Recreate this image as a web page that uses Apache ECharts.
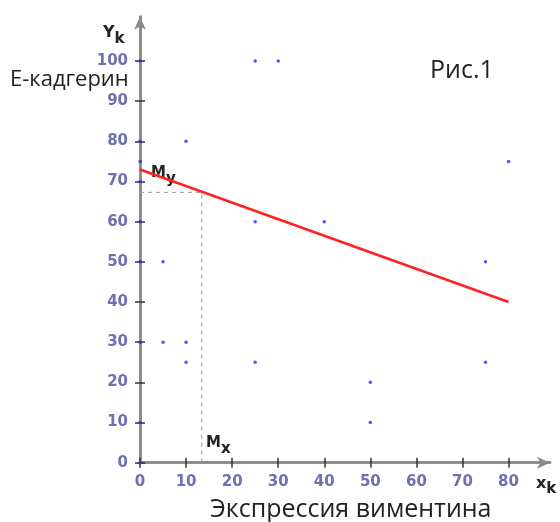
<!DOCTYPE html>
<html><head><meta charset="utf-8">
<script src="https://cdn.jsdelivr.net/npm/echarts@6/dist/echarts.min.js"></script>
<style>html,body{margin:0;padding:0;background:#fff}#c{width:560px;height:522px}</style>
</head><body><div id="c"></div>
<script>
// data
var pointsX = [0, 0, 0, 0, 0, 0, 0, 0, 0, 5, 5, 10, 10, 10, 25, 25, 25, 30, 40, 50, 50, 75, 75, 80];
var pointsY = [0, 10, 30, 50, 60, 70, 75, 80, 100, 50, 30, 80, 30, 25, 100, 60, 25, 100, 60, 20, 10, 50, 25, 75];
var regX = [0, 80];
var regY = [73, 40];
var meanX = 13.4;
var meanY = 67.3;
var xTicks = [0, 10, 20, 30, 40, 50, 60, 70, 80];
var yTicks = [0, 10, 20, 30, 40, 50, 60, 70, 80, 90, 100];

var scatterData = pointsX.map(function (x, i) { return [x, pointsY[i]]; });
var regData = regX.map(function (x, i) { return [x, regY[i]]; });
var guideData = [[0, meanY], [meanX, meanY], [meanX, 0]];

var labelColor = '#6c70b4';
var labelFont = 'DejaVu Sans';

function xAx(inside, showLabel) {
  return {
    type: 'value', min: 0, max: 89, position: 'bottom',
    axisLine: { show: true, onZero: false, lineStyle: { color: '#8a8a8a', width: 2.5 },
      symbol: showLabel ? ['none', 'arrow'] : 'none', symbolSize: [9, 13], symbolOffset: [0, 0] },
    axisTick: { show: true, inside: inside, length: 5, customValues: xTicks, lineStyle: { color: '#333', width: 1.5 } },
    axisLabel: { show: showLabel, customValues: xTicks, color: labelColor, fontFamily: labelFont, fontSize: 15, fontWeight: 'bold', margin: 12 },
    splitLine: { show: false }
  };
}
function yAx(inside, showLabel) {
  return {
    type: 'value', min: 0, max: 111, position: 'left',
    axisLine: { show: true, onZero: false, lineStyle: { color: '#8a8a8a', width: 2.5 },
      symbol: showLabel ? ['none', 'arrow'] : 'none', symbolSize: [9, 13] },
    axisTick: { show: true, inside: inside, length: 5, customValues: yTicks, lineStyle: { color: '#333', width: 1.5 } },
    axisLabel: { show: showLabel, customValues: yTicks, color: labelColor, fontFamily: labelFont, fontSize: 15, fontWeight: 'bold', margin: 12 },
    splitLine: { show: false }
  };
}

var bold = function (size, pad) {
  return { fontFamily: 'DejaVu Sans', fontWeight: 'bold', fontSize: size, fill: '#222', padding: pad || 0 };
};

var chart = echarts.init(document.getElementById('c'), null, { renderer: 'canvas' });
chart.setOption({
  backgroundColor: '#fff',
  animation: false,
  grid: { left: 140, right: 10, top: 16.8, bottom: 59.3, containLabel: false },
  xAxis: [xAx(false, true), xAx(true, false)],
  yAxis: [yAx(false, true), yAx(true, false)],
  series: [
    { type: 'line', data: guideData, symbol: 'none', z: 1,
      lineStyle: { color: '#999', width: 1, type: [4, 4] } },
    { type: 'line', data: regData, symbol: 'none', z: 2,
      lineStyle: { color: '#ff2222', width: 2.5 } },
    { type: 'scatter', data: scatterData, symbolSize: 3.5, z: 5,
      itemStyle: { color: '#2a2aff' } }
  ],
  graphic: [
    { type: 'text', left: 103, top: 25, style: { text: '{a|Y}{b|k}', rich: {
      a: bold(16), b: bold(15, [13, 0, 0, 0]) } } },
    { type: 'text', left: 536, top: 476, style: { text: '{a|x}{b|k}', rich: {
      a: bold(16), b: bold(15, [10, 0, 0, 0]) } } },
    { type: 'text', left: 151, top: 166, style: { text: '{a|M}{b|y}', rich: {
      a: bold(15), b: bold(15, [11, 0, 0, 0]) } } },
    { type: 'text', left: 206, top: 436, style: { text: '{a|M}{b|x}', rich: {
      a: bold(15), b: bold(15, [11, 0, 0, 0]) } } },
    { type: 'text', left: 10, top: 69, style: { text: 'Е-кадгерин', font: '22px "Open Sans"', fill: '#222' } },
    { type: 'text', left: 430, top: 58, style: { text: 'Рис.1', font: '25px "Open Sans"', fill: '#222' } },
    { type: 'text', left: 210, top: 497, style: { text: 'Экспрессия виментина', font: '25px "Open Sans"', fill: '#222' } }
  ]
});
</script></body></html>
